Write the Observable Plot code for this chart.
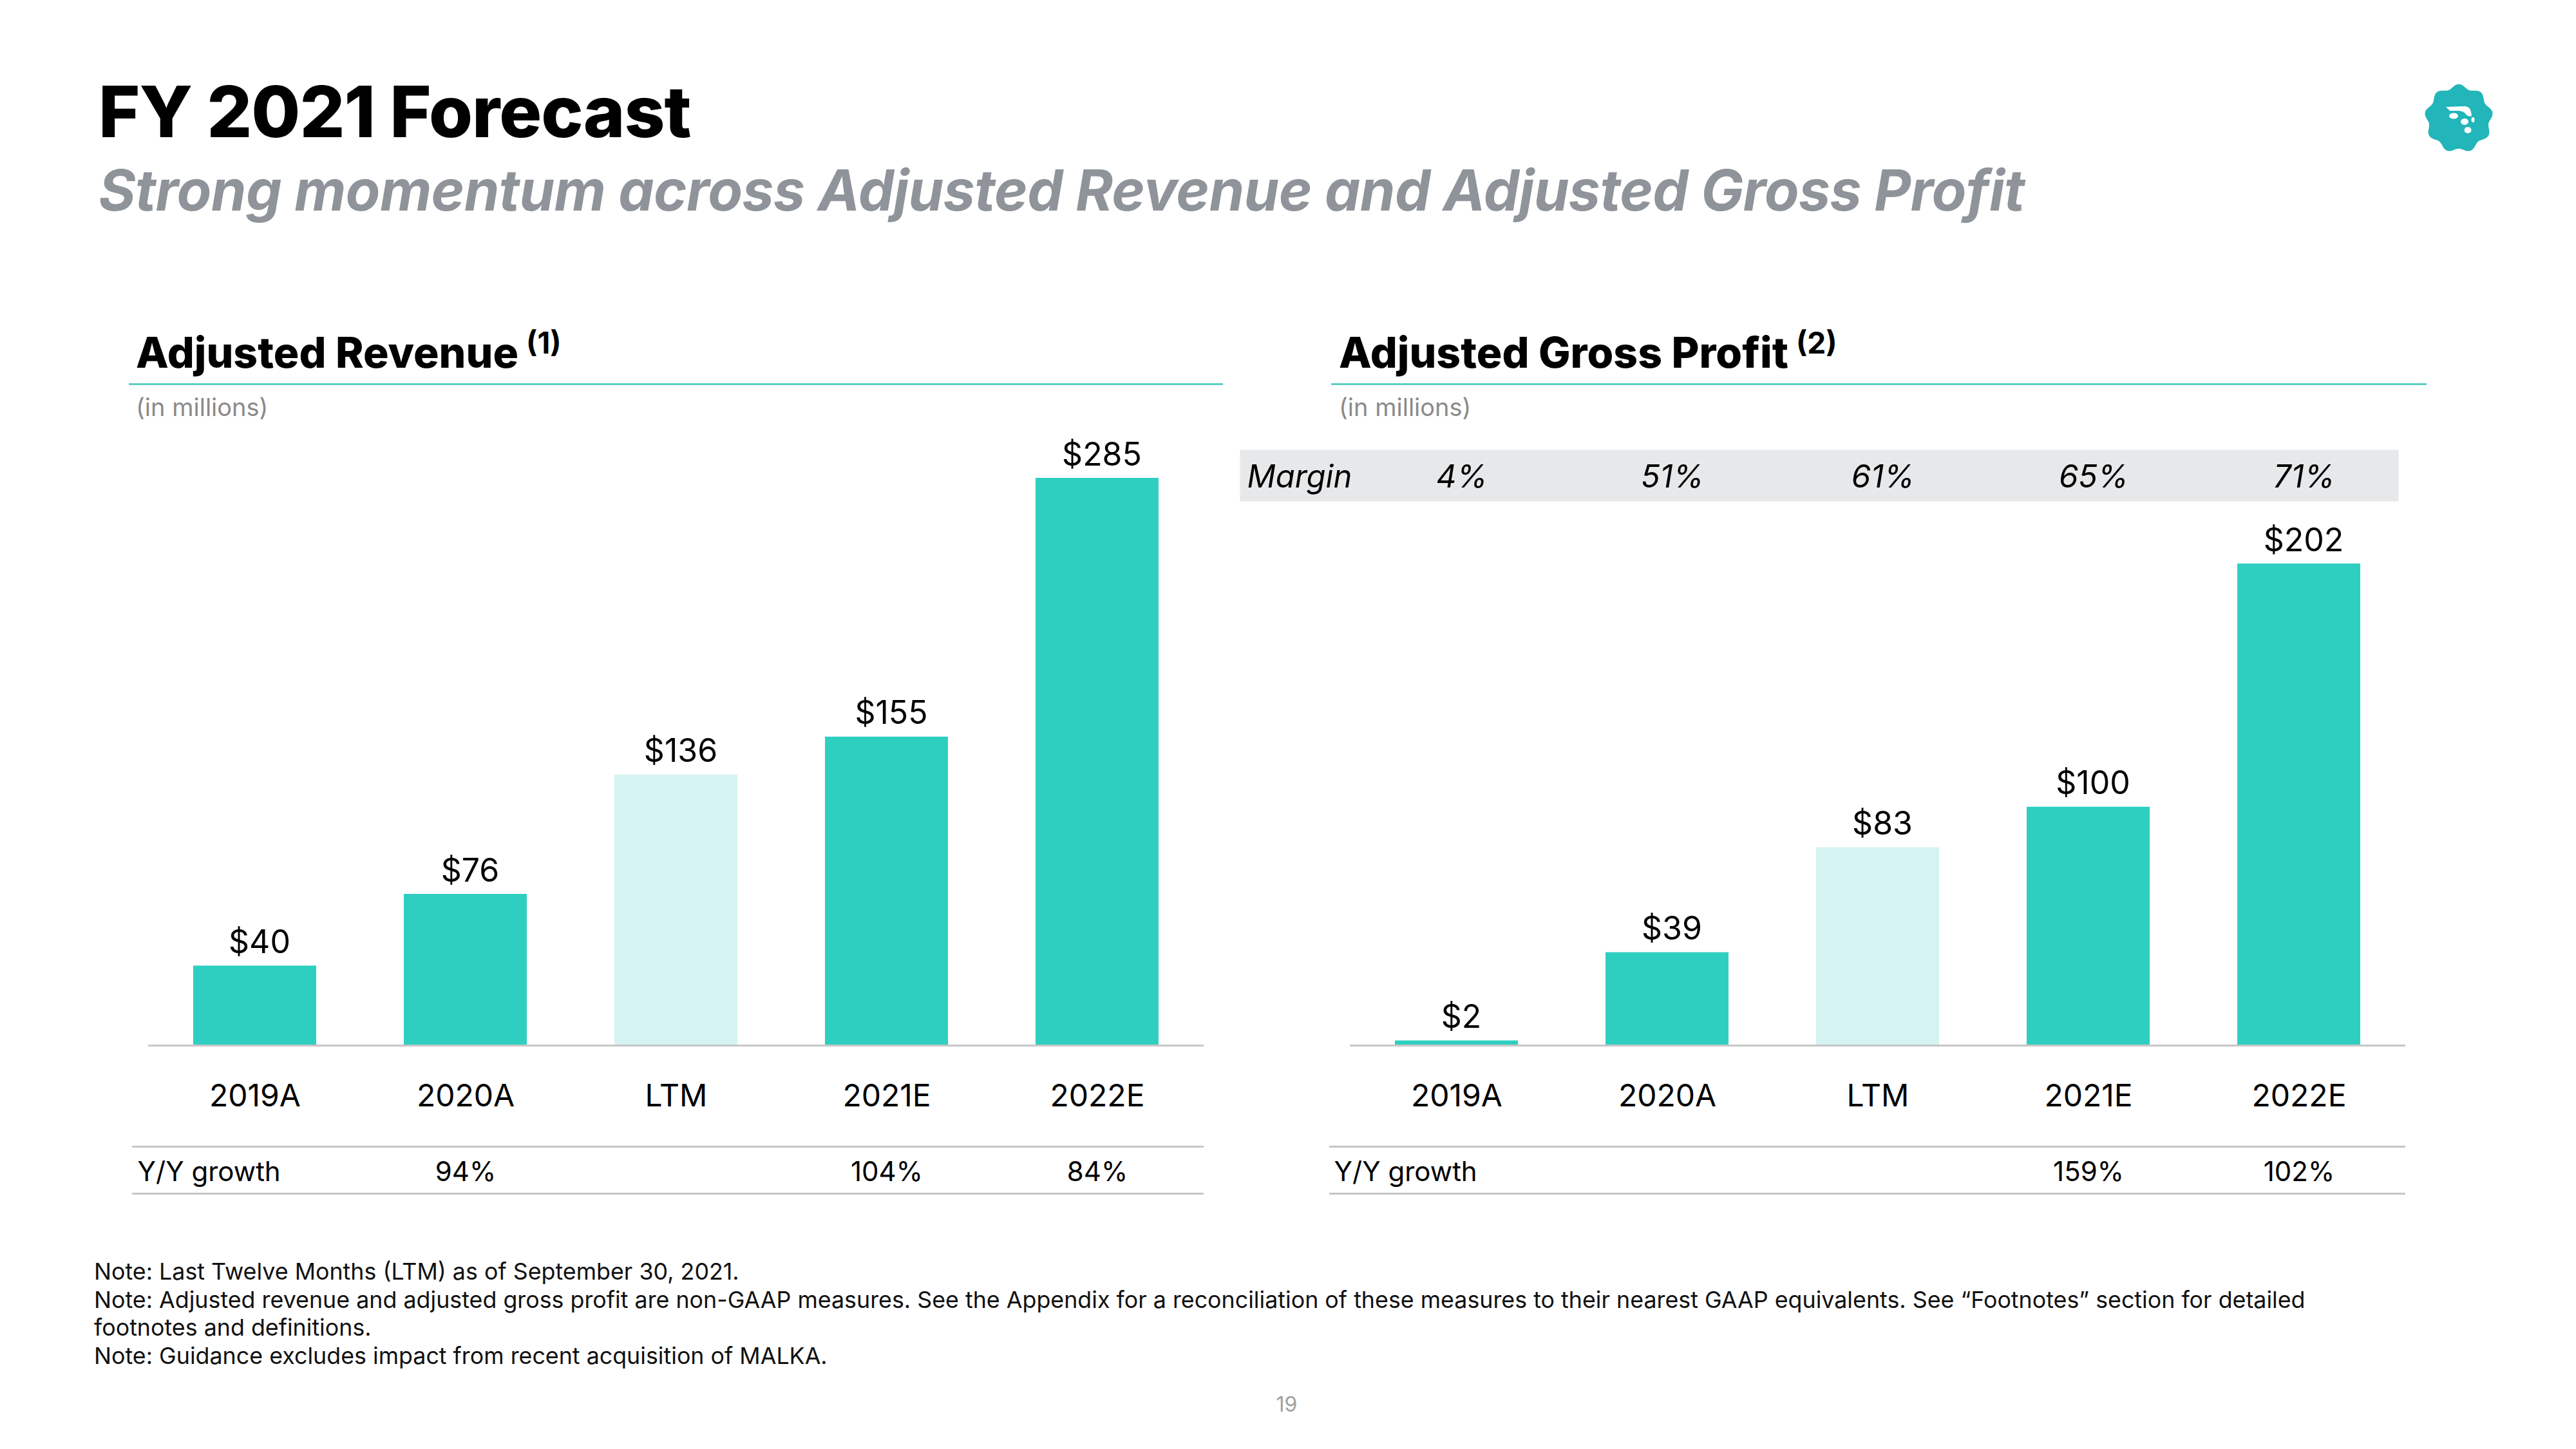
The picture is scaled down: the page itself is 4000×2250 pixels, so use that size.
<!DOCTYPE html>
<html>
<head>
<meta charset="utf-8">
<script src="https://cdn.jsdelivr.net/npm/d3@7"></script>
<script src="https://cdn.jsdelivr.net/npm/@observablehq/plot@0.6"></script>
<style>
  html, body { margin: 0; padding: 0; background: #fff; }
  #page { position: relative; width: 4000px; height: 2250px; overflow: hidden; background: #fff;
          font-family: Inter, "Noto Sans", sans-serif; color: #000; }
  .abs { position: absolute; white-space: nowrap; line-height: 1; }
  .title { left: 153px; top: 118px; font-size: 110px; font-weight: 800; letter-spacing: -1px; color: #000; }
  .subtitle { left: 153px; top: 251px; font-size: 88px; font-weight: 700; font-style: italic; color: #8f949a; letter-spacing: -0.7px; }
  .ptitle { top: 514px; font-size: 66px; font-weight: 800; letter-spacing: 0px; }
  .ptitle .sup { font-size: 46px; position: relative; top: -22px; margin-left: 12px; font-weight: 700; }
  .hline { position: absolute; top: 595px; height: 3px; background: #5ccfc1; }
  .unit { top: 613px; font-size: 38px; color: #8a8a8a; }
  .notes { left: 146px; top: 1953px; font-size: 35.8px; line-height: 43.7px; color: #111; white-space: nowrap; }
  .pagenum { left: 1998px; top: 2165px; font-size: 32px; color: #a0a0a0; transform: translateX(-50%); }
  .chart { position: absolute; }
</style>
</head>
<body>
<div id="page">
  <div class="abs title">FY 2021 Forecast</div>
  <div class="abs subtitle">Strong momentum across Adjusted Revenue and Adjusted Gross Profit</div>

  <div class="abs ptitle" style="left:211px">Adjusted Revenue<span class="sup">(1)</span></div>
  <div class="hline" style="left:200px; width:1699px"></div>
  <div class="abs unit" style="left:211px">(in millions)</div>

  <div class="abs ptitle" style="left:2079px">Adjusted Gross Profit<span class="sup">(2)</span></div>
  <div class="hline" style="left:2067px; width:1701px"></div>
  <div class="abs unit" style="left:2079px">(in millions)</div>

  <div id="left" class="chart" style="left:180px; top:650px"></div>
  <div id="right" class="chart" style="left:1920px; top:650px"></div>

  <div class="abs notes">Note: Last Twelve Months (LTM) as of September 30, 2021.<br>Note: Adjusted revenue and adjusted gross profit are non-GAAP measures. See the Appendix for a reconciliation of these measures to their nearest GAAP equivalents. See “Footnotes” section for detailed<br>footnotes and definitions.<br>Note: Guidance excludes impact from recent acquisition of MALKA.</div>
  <div class="abs pagenum">19</div>

  <svg id="logo" style="position:absolute; left:3762px; top:128px" width="112" height="112" viewBox="-56 -56 112 112"></svg>
</div>

<script>
// ---- data ----
const categories = ["2019A", "2020A", "LTM", "2021E", "2022E"];
const revenue = [40, 76, 136, 155, 285];
const grossProfit = [2, 39, 83, 100, 202];
const revenueGrowth = [null, 94, null, 104, 84];
const grossProfitGrowth = [null, null, null, 159, 102];
const grossMargin = [4, 51, 61, 65, 71];
const highlightCategory = "LTM";

const TEAL = "#2ecfc0";
const LIGHT = "#d5f4f1";
const RULE = "#c6c6c6";

function rows(values, growth, margin) {
  return categories.map((c, i) => ({cat: c, value: values[i], growth: growth[i], margin: margin ? margin[i] : null}));
}

function panel(opts) {
  const data = rows(opts.values, opts.growth, opts.margin);
  const marks = [];
  if (opts.margin) {
    marks.push(Plot.frame({fill: "#e7e8ea", stroke: "none",
      insetLeft: -171, insetRight: 11, insetTop: -177, insetBottom: 845}));
  }
  marks.push(
    Plot.barY(data.filter(d => d.cat !== highlightCategory), {x: "cat", y: "value", fill: TEAL}),
    Plot.barY(data.filter(d => d.cat === highlightCategory), {x: "cat", y: "value", fill: LIGHT}),
    Plot.ruleY([0], {stroke: RULE, strokeWidth: 3}),
    Plot.text(data, {x: "cat", y: "value", text: d => `$${d.value}`, lineAnchor: "bottom", dx: 7, dy: -20,
      fontSize: 50, fill: "#000"}),
    Plot.ruleY([0], {dy: 157, stroke: RULE, strokeWidth: 3, insetLeft: opts.growthInset}),
    Plot.ruleY([0], {dy: 230, stroke: RULE, strokeWidth: 3, insetLeft: opts.growthInset}),
    Plot.text(data.filter(d => d.growth != null), {x: "cat", text: d => `${d.growth}%`,
      frameAnchor: "bottom", dy: 210, fontSize: 42, fill: "#000"}),
    Plot.text(["Y/Y growth"], {text: d => d, frameAnchor: "bottom-left", textAnchor: "start",
      dx: opts.labelDx, dy: 210, fontSize: 42, fill: "#000"})
  );
  if (opts.margin) {
    marks.push(
      Plot.text(["Margin"], {text: d => d, frameAnchor: "top-left", textAnchor: "start",
        dx: -160, dy: -153, fontSize: 49, fontStyle: "italic", fill: "#000"}),
      Plot.text(data, {x: "cat", text: d => `${d.margin}%`, frameAnchor: "top", dx: 8, dy: -153,
        fontSize: 49, fontStyle: "italic", fill: "#000"})
    );
  }
  return Plot.plot({
    width: opts.width,
    height: 1250,
    marginLeft: opts.marginLeft,
    marginRight: opts.marginRight,
    marginTop: opts.marginTop,
    marginBottom: 277,
    style: {fontFamily: "Inter, 'Noto Sans', sans-serif", fontSize: "48px", color: "#000",
            background: "transparent", overflow: "visible"},
    x: {domain: categories, paddingInner: 0.415, paddingOuter: 0.2075, tickSize: 0, tickPadding: 60, label: null},
    y: {domain: [0, opts.yMax], axis: null},
    marks
  });
}

document.getElementById("left").appendChild(panel({
  values: revenue, growth: revenueGrowth, width: 1720, marginLeft: 50, marginRight: 31,
  marginTop: 92, yMax: d3.max(revenue), growthInset: -25, labelDx: -17
}));

document.getElementById("right").appendChild(panel({
  values: grossProfit, growth: grossProfitGrowth, margin: grossMargin, width: 1860, marginLeft: 176, marginRight: 45,
  marginTop: 225, yMax: d3.max(grossProfit), growthInset: -32, labelDx: -25
}));

// ---- logo (decorative badge) ----
(function () {
  const svg = d3.select("#logo");
  const n = 9, R = 50, a = 3.2;
  const pts = d3.range(0, 361, 4).map(deg => {
    const t = deg * Math.PI / 180;
    const r = R + a * Math.cos(n * t);
    return [r * Math.sin(t), -r * Math.cos(t)];
  });
  svg.append("path").attr("d", d3.line().curve(d3.curveCardinalClosed)(pts)).attr("fill", "#22b5b9");
  svg.append("path").attr("d", "M-20,-18 L10,-19 Q18,-18 19,-10 L20,-4 Q14,-2 10,-8 Q6,-12 -2,-12 L-14,-12 Z").attr("fill", "#fff");
  svg.append("ellipse").attr("cx", -8).attr("cy", -4).attr("rx", 7).attr("ry", 4.5).attr("fill", "#fff");
  svg.append("ellipse").attr("cx", 9).attr("cy", 5).attr("rx", 6).attr("ry", 5).attr("fill", "#fff");
  svg.append("ellipse").attr("cx", 22).attr("cy", 2).attr("rx", 2.5).attr("ry", 4).attr("fill", "#fff");
  svg.append("ellipse").attr("cx", 14).attr("cy", 18).attr("rx", 5.5).attr("ry", 5).attr("fill", "#fff");
})();
</script>
</body>
</html>
